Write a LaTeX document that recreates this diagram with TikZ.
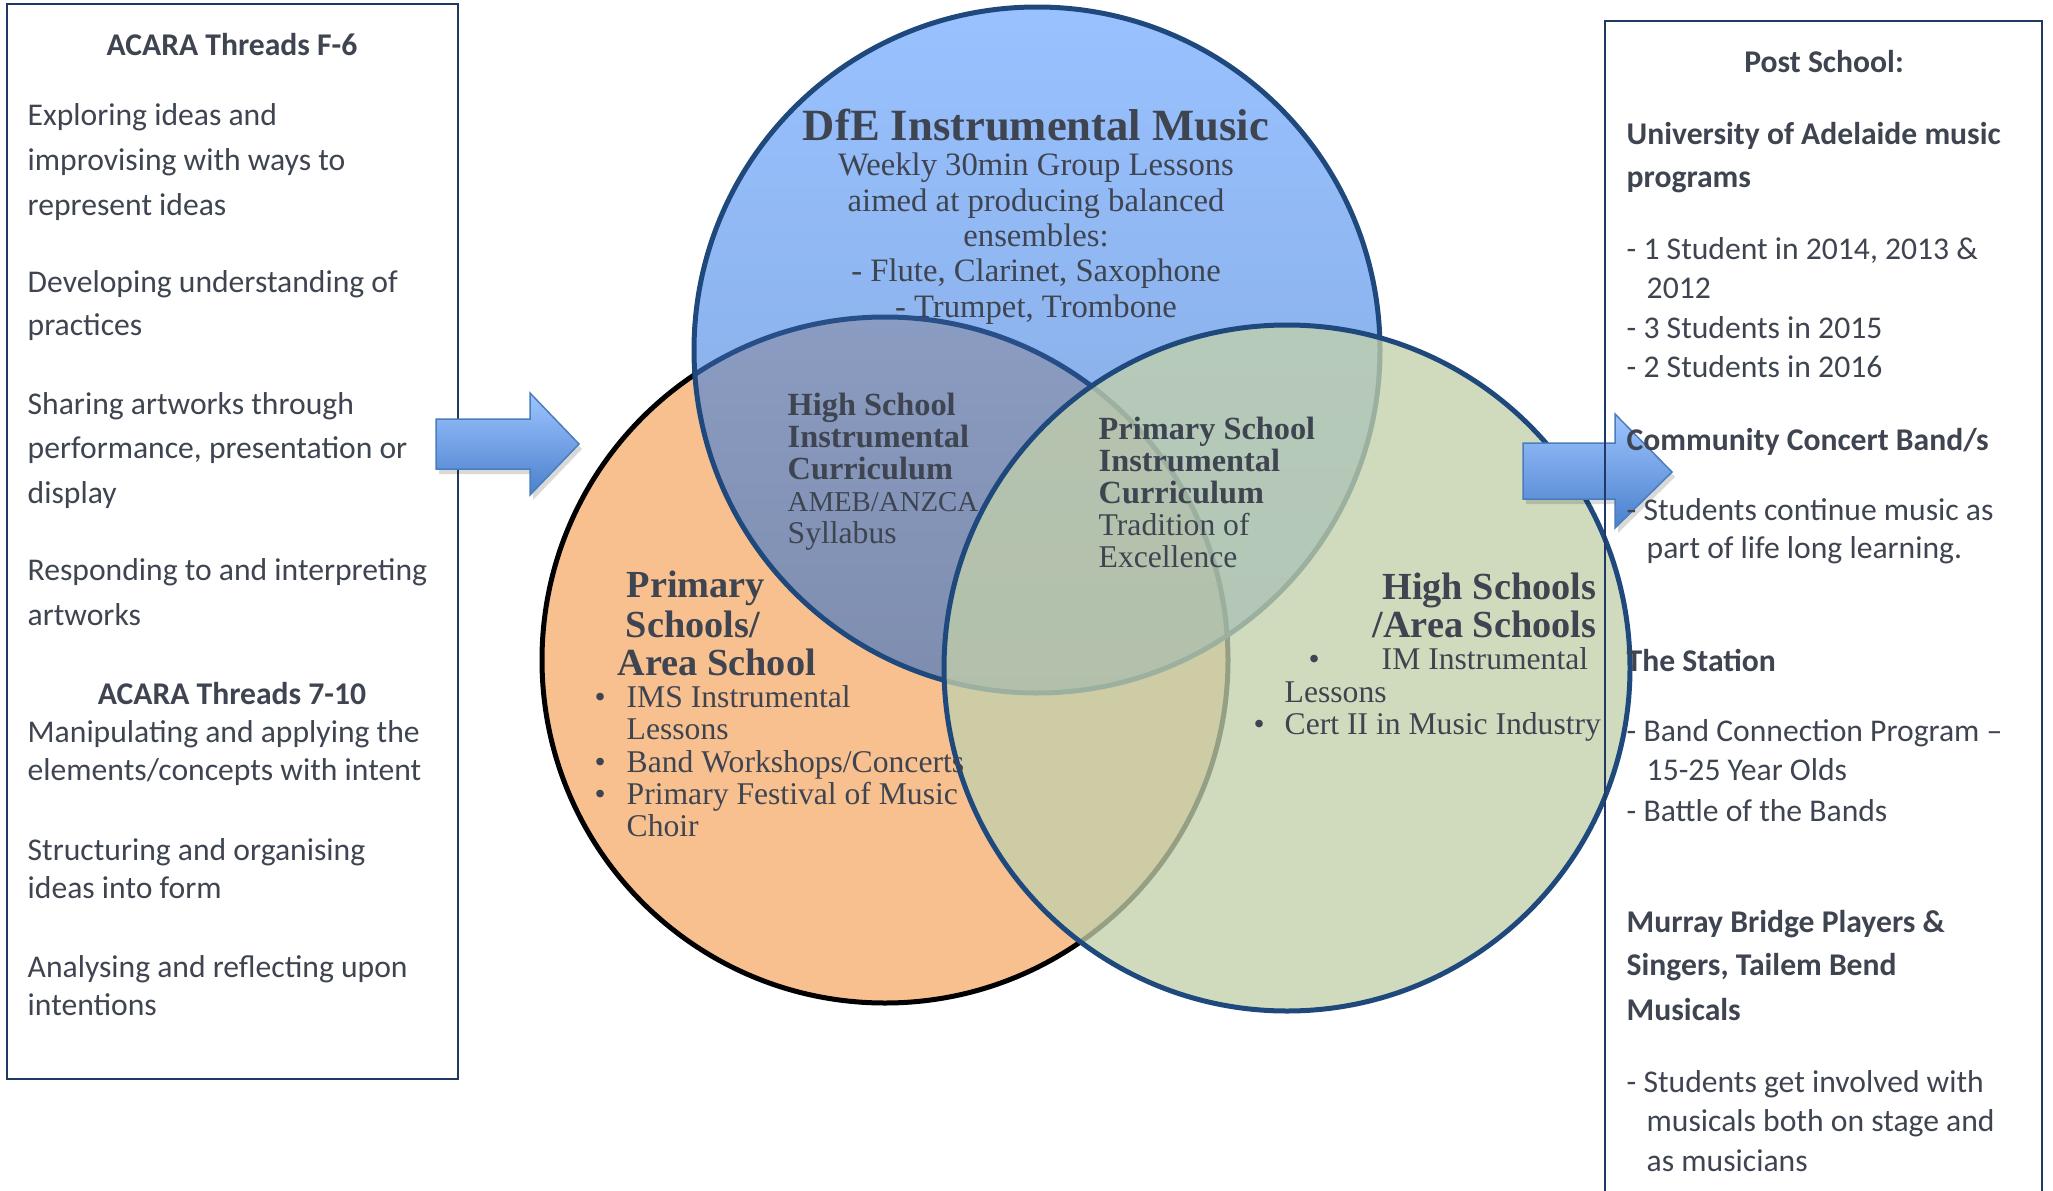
\documentclass[tikz,border=0pt]{standalone}
\usepackage{fontspec}
\setmainfont{Liberation Serif}
\newfontfamily\boxfont{Carlito}

\definecolor{txtgray}{RGB}{62,68,80}
\definecolor{orangefill}{RGB}{248,192,143}
\definecolor{bluetop}{RGB}{85,152,255}
\definecolor{bluebot}{RGB}{45,108,196}
\definecolor{blueline}{RGB}{31,73,125}
\definecolor{greenfill}{RGB}{194,208,171}
\definecolor{arrowtop}{RGB}{158,196,255}
\definecolor{arrowbot}{RGB}{74,128,204}
\definecolor{arrowline}{RGB}{74,126,187}
\definecolor{boxline}{RGB}{31,56,100}

\tikzset{circ line/.style={line width=0.5mm},
box text/.style={font=\boxfont\fontsize{9}{11}\selectfont, text=txtgray, inner sep=0pt, anchor=base west},
box head/.style={box text, font=\boxfont\bfseries\fontsize{9}{11}\selectfont},
venn text/.style={font=\fontsize{9}{11}\selectfont, text=txtgray, inner sep=0pt, anchor=base west},
dfe text/.style={venn text, anchor=base, font=\fontsize{9.3}{11}\selectfont},
venn head/.style={venn text, font=\bfseries\fontsize{9.2}{11}\selectfont},
venn big/.style={venn text, font=\bfseries\fontsize{10.9}{13}\selectfont},
big arrow/.style={top color=arrowtop, bottom color=arrowbot, draw=arrowline, line width=0.15mm},}

\begin{document}
\begin{tikzpicture}[x=0.1mm, y=-0.1mm]
\useasboundingbox (0,0) rectangle (2053,1191);

% the three circles
\filldraw[fill=orangefill, draw=black, circ line] (885,660) circle (343);
\shadedraw[top color=bluetop, bottom color=bluebot, fill opacity=0.6, draw=blueline, circ line] (1037,350) circle (343);
\filldraw[fill=greenfill, fill opacity=0.77, draw=blueline, circ line] (1287,668) circle (343);

% left box and arrows
\draw[boxline, line width=0.25mm] (7,4) rectangle (458,1079);
\fill[black, opacity=0.15, shift={(3,5)}] (436,419) -- (530,419) -- (530,393) -- (579,444) -- (530,495) -- (530,469) -- (436,469) -- cycle;
\shadedraw[big arrow] (436,419) -- (530,419) -- (530,393) -- (579,444) -- (530,495) -- (530,469) -- (436,469) -- cycle;
\fill[black, opacity=0.15, shift={(3,5)}] (1523,443) -- (1615,443) -- (1615,414) -- (1672,472) -- (1615,528) -- (1615,499) -- (1523,499) -- cycle;
\shadedraw[big arrow] (1523,443) -- (1615,443) -- (1615,414) -- (1672,472) -- (1615,528) -- (1615,499) -- (1523,499) -- cycle;
\draw[boxline, line width=0.15mm] (1605,1191) -- (1605,21) -- (2042,21) -- (2042,1191);

% left box text
\node[box head, anchor=base] (f6) at (232,56) {ACARA Threads F-6};
\node[box text] (f6a) at (27,125) {Exploring ideas and};
\node[box text] (f6b) at (27,170) {improvising with ways to};
\node[box text] (f6c) at (27,215) {represent ideas};
\node[box text] (f6d) at (27,292) {Developing understanding of};
\node[box text] (f6e) at (27,335) {practices};
\node[box text] (f6f) at (27,414) {Sharing artworks through};
\node[box text] (f6g) at (27,458) {performance, presentation or};
\node[box text] (f6h) at (27,503) {display};
\node[box text] (f6i) at (27,580) {Responding to and interpreting};
\node[box text] (f6j) at (27,625) {artworks};
\node[box head, anchor=base] (s7) at (232,704) {ACARA Threads 7-10};
\node[box text] (s7a) at (27,742) {Manipulating and applying the};
\node[box text] (s7b) at (27,780) {elements/concepts with intent};
\node[box text] (s7c) at (27,860) {Structuring and organising};
\node[box text] (s7d) at (27,898) {ideas into form};
\node[box text] (s7e) at (27,977) {Analysing and reflecting upon};
\node[box text] (s7f) at (27,1015) {intentions};

% right box text
\node[box head, anchor=base] (post) at (1824,72) {Post School:};
\node[box head] (uni1) at (1626,144) {University of Adelaide music};
\node[box head] (uni2) at (1626,187) {programs};
\node[box text] (uni3) at (1626,259) {- 1 Student in 2014, 2013 \&};
\node[box text] (uni4) at (1646,298) {2012};
\node[box text] (uni5) at (1626,338) {- 3 Students in 2015};
\node[box text] (uni6) at (1626,377) {- 2 Students in 2016};
\node[box head] (band1) at (1626,450) {Community Concert Band/s};
\node[box text] (band2) at (1626,520) {- Students continue music as};
\node[box text] (band3) at (1646,558) {part of life long learning.};
\node[box head] (stat1) at (1626,671) {The Station};
\node[box text] (stat2) at (1626,741) {- Band Connection Program –};
\node[box text] (stat3) at (1646,780) {15-25 Year Olds};
\node[box text] (stat4) at (1626,821) {- Battle of the Bands};
\node[box head] (mur1) at (1626,932) {Murray Bridge Players \&};
\node[box head] (mur2) at (1626,975) {Singers, Tailem Bend};
\node[box head] (mur3) at (1626,1020) {Musicals};
\node[box text] (mur4) at (1626,1092) {- Students get involved with};
\node[box text] (mur5) at (1646,1131) {musicals both on stage and};
\node[box text] (mur6) at (1646,1171) {as musicians};

% blue circle text
\node[dfe text, font=\bfseries\fontsize{12.7}{15}\selectfont] (dfe) at (1036,141) {DfE Instrumental Music};
\node[dfe text] (dfe1) at (1036,175) {Weekly 30min Group Lessons};
\node[dfe text] (dfe2) at (1036,211) {aimed at producing balanced};
\node[dfe text] (dfe3) at (1036,246) {ensembles:};
\node[dfe text] (dfe4) at (1036,281) {- Flute, Clarinet, Saxophone};
\node[dfe text] (dfe5) at (1036,317) {- Trumpet, Trombone};

% overlap text
\node[venn head] (hsc1) at (787,415) {High School};
\node[venn head] (hsc2) at (787,447) {Instrumental};
\node[venn head] (hsc3) at (787,479) {Curriculum};
\node[venn text, font=\fontsize{8.2}{10}\selectfont] (hsc4) at (787,511) {AMEB/ANZCA};
\node[venn text] (hsc5) at (787,543) {Syllabus};
\node[venn head] (psc1) at (1098,439) {Primary School};
\node[venn head] (psc2) at (1098,471) {Instrumental};
\node[venn head] (psc3) at (1098,503) {Curriculum};
\node[venn text] (psc4) at (1098,535) {Tradition of};
\node[venn text] (psc5) at (1098,567) {Excellence};

% orange circle text
\node[venn big] (pri1) at (626,597) {Primary};
\node[venn big] (pri2) at (625,637) {Schools/};
\node[venn big] (pri3) at (617,675) {Area School};
\node[venn text] (prib1) at (594,707) {•};
\node[venn text] (pri4) at (626,707) {IMS Instrumental};
\node[venn text] (pri5) at (626,739) {Lessons};
\node[venn text] (prib2) at (594,772) {•};
\node[venn text] (pri6) at (626,772) {Band Workshops/Concerts};
\node[venn text] (prib3) at (594,804) {•};
\node[venn text] (pri7) at (626,804) {Primary Festival of Music};
\node[venn text] (pri8) at (626,836) {Choir};

% green circle text
\node[venn big, anchor=base east] (hi1) at (1597,599) {High Schools};
\node[venn big, anchor=base east] (hi2) at (1597,637) {/Area Schools};
\node[venn text] (hib1) at (1308,669) {•};
\node[venn text] (hi3) at (1381,669) {IM Instrumental};
\node[venn text] (hi4) at (1284,702) {Lessons};
\node[venn text] (hib2) at (1253,734) {•};
\node[venn text] (hi5) at (1284,734) {Cert II in Music Industry};
\end{tikzpicture}
\end{document}
